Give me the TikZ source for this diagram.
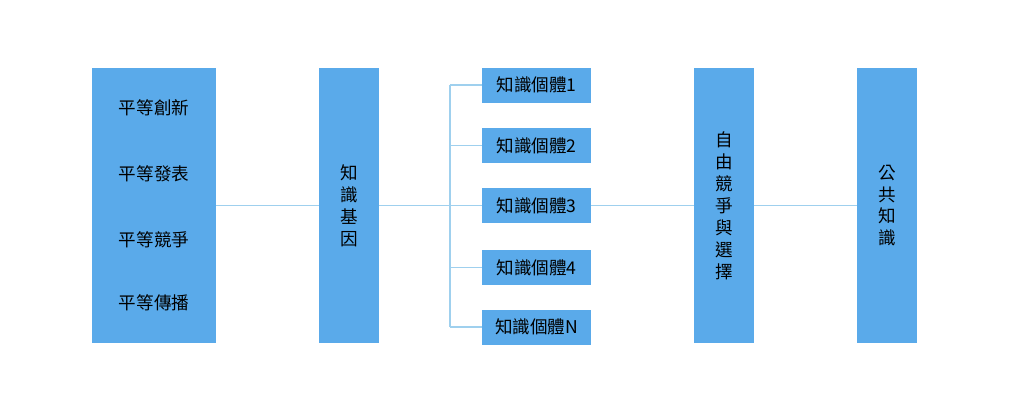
\documentclass[tikz,border=0pt]{standalone}
\usepackage{fontspec}
\newfontfamily\cjk{Noto Sans CJK TC}
\usetikzlibrary{positioning}
\definecolor{boxblue}{HTML}{5AAAEA}
\definecolor{linkblue}{HTML}{9FD0EE}
\tikzset{
  blk/.style={fill=boxblue, draw=none, inner sep=0pt, font=\cjk\fontsize{10}{12.5}\selectfont, align=center},
  link/.style={draw=linkblue, line width=0.6pt}
}
\begin{document}
\begin{tikzpicture}[x=0.02cm, y=-0.02cm]
  \useasboundingbox (0, 0) rectangle (1024, 410);
  \node [blk, minimum width=2.48cm, minimum height=5.5cm] (PR) at (154, 205.5) {};
  \node [blk] at (154, 108) {平等創新};
  \node [blk] at (154, 174) {平等發表};
  \node [blk] at (154, 240) {平等競爭};
  \node [blk] at (154, 303) {平等傳播};
  \node [blk, minimum width=1.2cm, minimum height=5.5cm] (GE) at (349, 205.5) {知\\識\\基\\因};
  \node [blk, minimum width=2.18cm, minimum height=0.7cm] (K1) at (536.5, 85) {知識個體1};
  \node [blk, minimum width=2.18cm, minimum height=0.7cm] (K2) at (536.5, 145.5) {知識個體2};
  \node [blk, minimum width=2.18cm, minimum height=0.7cm] (K3) at (536.5, 205.5) {知識個體3};
  \node [blk, minimum width=2.18cm, minimum height=0.7cm] (K4) at (536.5, 267.5) {知識個體4};
  \node [blk, minimum width=2.18cm, minimum height=0.7cm] (KN) at (536.5, 327) {知識個體N};
  \node [blk, minimum width=1.2cm, minimum height=5.5cm] (CS) at (724, 205.5) {自\\由\\競\\爭\\與\\選\\擇};
  \node [blk, minimum width=1.2cm, minimum height=5.5cm] (PK) at (887, 205.5) {公\\共\\知\\識};
  \coordinate (BT) at (450, 85);
  \coordinate (BB) at (450, 327);
  \draw [link] (PR) -- (GE);
  \draw [link] (GE) -- (K3);
  \draw [link] (BT) -- (BB);
  \draw [link] (BT) -- (K1);
  \draw [link] (K2 -| BT) -- (K2);
  \draw [link] (K4 -| BT) -- (K4);
  \draw [link] (BB) -- (KN);
  \draw [link] (K3) -- (CS);
  \draw [link] (CS) -- (PK);
\end{tikzpicture}
\end{document}
